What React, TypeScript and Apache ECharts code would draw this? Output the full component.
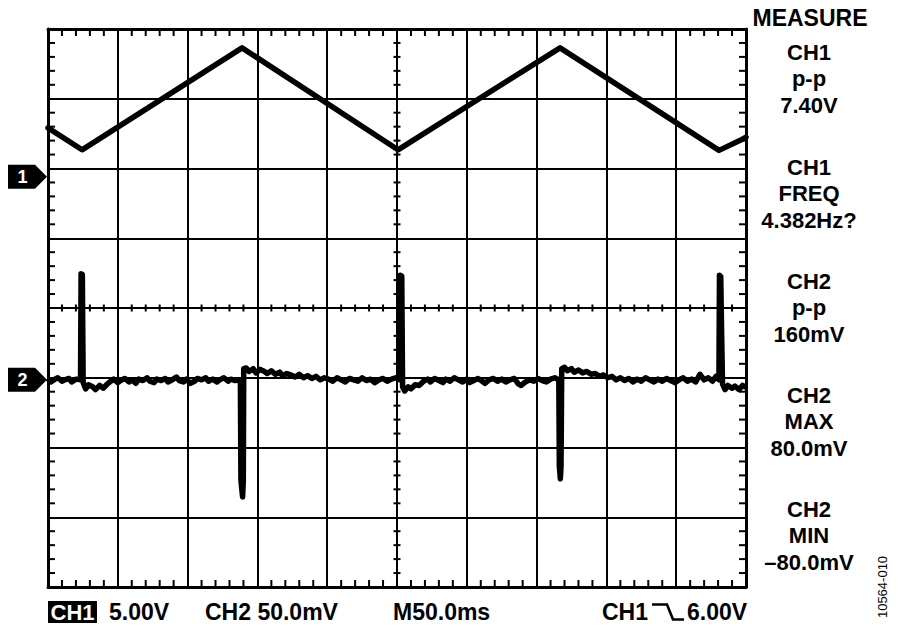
import React, { useEffect, useRef } from "react";
import * as echarts from "echarts";

// ---- scope settings ----
const TIME_MAX_MS = 500; // 10 div x 50 ms
const TIME_DIV_MS = 50;
const CH1_V_PER_DIV = 5;
const CH2_MV_PER_DIV = 50;
const CH1_GROUND_DIV = 1.88; // ground marker 1, divisions above centre
const CH2_GROUND_DIV = -1.03; // ground marker 2, divisions above centre
const MINOR_PER_DIV = 5;

// ---- CH1 triangle (ms, V) ----
const ch1Time = [0, 24.4, 139, 250.7, 366.8, 480.7, 495.5, 500];
const ch1Volts = [3.51, 1.94, 9.25, 1.94, 9.25, 1.9, 2.6, 2.85];

// ---- CH2 spikes (ms, mV) ----
const ch2Samples: [number, number][] = [
  [0, 1], [2, -1.5], [5, 0.5], [7, 1.5], [10, -1], [12, 0], [15, 1], [17, -1.5], [20, 0.5], [23.3, 0],
  [23.7, 76], [24.6, 75.5], [25.2, -2],
  [27, -6.5], [29, -3.5], [32, -5], [34, -7], [37, -4], [39.5, -6], [42, -3.5],
  [45, -1], [47, 0.5], [50, -2], [52, -0.5], [55, 1], [58, -1.5], [60, 0], [63, -2.5], [65, 0.5],
  [68, -0.5], [71, 1.5], [73, -1], [76, -2], [78, 0.5], [81, -0.5], [84, 1], [86, -1.5], [89, 0],
  [92, 2], [94, -0.5], [97, -1.5], [99, 0.5], [102, -2.5], [105, -1], [107, 1], [110, 0], [113, 1.5],
  [115, -1], [118, 0.5], [121, -1.5], [123, 0], [126, 1.5], [129, -1], [131, 0.5], [134, -0.5], [137.8, 0],
  [138.2, -72], [139.4, -84], [139.9, -72], [140.2, 8],
  [142, 8.5], [144, 6], [147, 8], [149, 5], [152, 7.5], [155, 6], [157, 4.5], [160, 6.5], [163, 4],
  [166, 5.5], [168, 3], [171, 4.5], [174, 3.5], [177, 2], [180, 4], [183, 1.5], [186, 3], [189, 1],
  [192, 2.5], [195, 0], [198, 1.5], [201, 0.5], [204, -1], [207, 1.5], [210, 0], [213, -1.5],
  [216, 1], [219, 0], [222, -1], [225, 1.5], [228, -0.5], [231, 0.5], [234, -2], [237, 0],
  [240, 1], [243, -1], [246, 0.5], [249, 1.5], [251.9, 0],
  [252.3, 75], [253.4, 74.5], [254.0, -5],
  [255.5, -8], [258, -5], [260, -6.5], [263, -3.5], [266, -4],
  [269, -1], [272, 0.5], [274, -1.5], [277, 1], [280, -0.5], [283, -2], [285, 0.5], [288, -1],
  [291, 1.5], [294, 0], [297, -1.5], [300, 0.5], [302, -2], [305, -0.5], [308, 1], [311, -1],
  [313, -2.5], [316, 0], [319, 1], [322, -1], [325, 0.5], [328, -1.5], [331, 0], [334, 1],
  [337, -3], [339, -4], [342, -1.5], [345, 0], [348, -1], [351, 1], [354, -0.5], [357, -1.5],
  [360, 0.5], [363, 1.5], [365.9, 0],
  [366.3, -62], [367.0, -71], [367.5, -62], [368.0, 8],
  [370, 9], [372, 6.5], [375, 8], [377, 5.5], [380, 7], [383, 5], [386, 6], [389, 4], [392, 4.5],
  [395, 2.5], [398, 3.5], [401, 1.5], [404, 2.5], [407, 0], [410, 1.5], [413, -0.5], [416, 1],
  [419, -1.5], [422, 0.5], [425, -1], [428, 1.5], [431, 0], [434, -1.5], [437, 0.5], [440, -1],
  [443, 1], [446, -0.5], [449, -2], [452, 0], [455, 1.5], [458, -1], [461, 0.5], [464, -1.5],
  [467, 4], [470, 0], [473, 1.5], [476, -1], [478.5, 2.5], [480.6, 0],
  [481.0, 75], [481.9, 74], [482.6, 30], [483.2, -3],
  [485, -7], [487, -4], [490, -6], [492, -4.5], [495, -7], [497.5, -4], [500, -5.5],
];

// ---- texts ----
const measureTitle = "MEASURE";
const measureGroups = [
  ["CH1", "p-p", "7.40V"],
  ["CH1", "FREQ", "4.382Hz?"],
  ["CH2", "p-p", "160mV"],
  ["CH2", "MAX", "80.0mV"],
  ["CH2", "MIN", "\u201380.0mV"],
];
const bottomCh1Box = "CH1";
const bottomLabels = ["5.00V", "CH2 50.0mV", "M50.0ms", "CH1", "6.00V"];
const figureId = "10564-010";

// ---- layout ----
const GRID = { left: 48, top: 29, width: 698, height: 558 };
const FONT = '"Liberation Sans", Arial, Helvetica, sans-serif';
const BLACK = "#000";

const borderLine = { show: true, onZero: false, lineStyle: { color: BLACK, width: 3 } };
const gridLine = { show: true, lineStyle: { color: BLACK, width: 2 } };

function buildOption() {
  return {
    animation: false,
    backgroundColor: "#fff",
    grid: { ...GRID, containLabel: false, outerBoundsMode: "none" },
    xAxis: [
      {
        type: "value",
        position: "bottom",
        min: 0,
        max: TIME_MAX_MS,
        interval: TIME_DIV_MS,
        axisLabel: { show: false },
        axisTick: { show: false },
        axisLine: borderLine,
        splitLine: gridLine,
      },
      {
        type: "value",
        position: "top",
        min: 0,
        max: TIME_MAX_MS,
        interval: TIME_DIV_MS,
        axisLabel: { show: false },
        axisTick: { show: false },
        axisLine: borderLine,
        splitLine: { show: false },
      },
    ],
    yAxis: [
      {
        type: "value",
        position: "left",
        min: -4,
        max: 4,
        interval: 1,
        axisLabel: { show: false },
        axisTick: { show: false },
        axisLine: borderLine,
        splitLine: gridLine,
      },
      {
        type: "value",
        position: "right",
        min: -4,
        max: 4,
        interval: 1,
        axisLabel: { show: false },
        axisTick: { show: false },
        axisLine: borderLine,
        splitLine: { show: false },
      },
      {
        type: "value",
        show: false,
        min: (-4 - CH1_GROUND_DIV) * CH1_V_PER_DIV,
        max: (4 - CH1_GROUND_DIV) * CH1_V_PER_DIV,
        axisLine: { onZero: false },
        splitLine: { show: false },
      },
      {
        type: "value",
        show: false,
        min: (-4 - CH2_GROUND_DIV) * CH2_MV_PER_DIV,
        max: (4 - CH2_GROUND_DIV) * CH2_MV_PER_DIV,
        axisLine: { onZero: false },
        splitLine: { show: false },
      },
    ],
    series: [
      {
        name: "CH1",
        type: "line",
        xAxisIndex: 0,
        yAxisIndex: 2,
        data: ch1Time.map((t, i) => [t, ch1Volts[i]]),
        symbol: "none",
        showSymbol: false,
        silent: true,
        clip: true,
        z: 5,
        lineStyle: { color: BLACK, width: 5.5, join: "round", cap: "round" },
      },
      {
        name: "CH2",
        type: "line",
        xAxisIndex: 0,
        yAxisIndex: 3,
        data: ch2Samples,
        symbol: "none",
        showSymbol: false,
        silent: true,
        clip: true,
        z: 5,
        lineStyle: { color: BLACK, width: 5.5, join: "round", cap: "butt" },
      },
    ],
  };
}

function text(str: string, x: number, y: number, size: number, align: string, opts: any = {}) {
  return {
    type: "text",
    x,
    y,
    z: 100,
    silent: true,
    ...opts.el,
    style: {
      text: str,
      fill: opts.fill || BLACK,
      fontSize: size,
      fontWeight: opts.weight || "bold",
      fontFamily: FONT,
      align,
      textAlign: align,
      verticalAlign: "middle",
      textVerticalAlign: "middle",
    },
  };
}

function tickLine(x1: number, y1: number, x2: number, y2: number) {
  return {
    type: "line",
    z: 50,
    silent: true,
    shape: { x1, y1, x2, y2 },
    style: { stroke: BLACK, lineWidth: 2 },
  };
}

// minor ticks of the graticule, positioned through the chart's own axes
function buildTicks(chart: any) {
  const g: any[] = [];
  const px = (t: number) => chart.convertToPixel({ xAxisIndex: 0 }, t) as number;
  const py = (v: number) => chart.convertToPixel({ yAxisIndex: 0 }, v) as number;
  const left = px(0), right = px(TIME_MAX_MS), cx = px(TIME_MAX_MS / 2);
  const top = py(4), bottom = py(-4), cy = py(0);
  const BL = 7; // border tick length
  const CL = 3.5; // centre cross half-length
  for (let d = 0; d < 10; d++) {
    for (let k = 1; k < MINOR_PER_DIV; k++) {
      const x = px((d + k / MINOR_PER_DIV) * TIME_DIV_MS);
      g.push(tickLine(x, top, x, top + BL));
      g.push(tickLine(x, bottom, x, bottom - BL));
      g.push(tickLine(x, cy - CL, x, cy + CL));
    }
  }
  for (let d = -4; d < 4; d++) {
    for (let k = 1; k < MINOR_PER_DIV; k++) {
      const y = py(d + k / MINOR_PER_DIV);
      g.push(tickLine(left, y, left + BL, y));
      g.push(tickLine(right, y, right - BL, y));
      g.push(tickLine(cx - CL, y, cx + CL, y));
    }
  }
  return g;
}

function marker(label: string, py: number) {
  return [
    {
      type: "polygon",
      z: 100,
      silent: true,
      shape: {
        points: [
          [8, py - 12],
          [35, py - 12],
          [47, py],
          [35, py + 12],
          [8, py + 12],
        ],
      },
      style: { fill: BLACK },
    },
    text(label, 22.5, py + 0.5, 18, "center", { fill: "#fff" }),
  ];
}

function buildLabels(y1: number, y2: number) {
  const g: any[] = [];
  g.push(...marker("1", y1));
  g.push(...marker("2", y2));

  // right-hand measurement panel
  const cx = 809;
  g.push(text(measureTitle, cx + 1, 18, 23, "center"));
  const groupY = [52, 167, 281, 395, 509];
  measureGroups.forEach((lines, gi) => {
    lines.forEach((ln, li) => {
      g.push(text(ln, cx, groupY[gi] + li * 26.7, 22, "center"));
    });
  });

  // bottom status line
  const by = 612;
  g.push({
    type: "rect",
    z: 100,
    silent: true,
    shape: { x: 48, y: 601, width: 49, height: 22 },
    style: { fill: BLACK },
  });
  g.push(text(bottomCh1Box, 72.5, by + 0.5, 22, "center", { fill: "#fff" }));
  const bx = [109, 205, 393, 602, 687];
  bottomLabels.forEach((s, i) => g.push(text(s, bx[i], by, 23, "left")));
  // falling-edge trigger symbol
  g.push({
    type: "polyline",
    z: 100,
    silent: true,
    shape: { points: [[652, 604.5], [667, 604.5], [673, 619.5], [684, 619.5]] },
    style: { stroke: BLACK, lineWidth: 2.6, fill: "none" },
  });

  // figure id (rotated)
  g.push(text(figureId, 882, 587, 13, "center", { weight: "normal", el: { rotation: Math.PI / 2 } }));
  return g;
}

export default function App() {
  const ref = useRef<HTMLDivElement>(null);
  useEffect(() => {
    if (!ref.current) return;
    const chart = echarts.init(ref.current, null, { renderer: "svg" });
    chart.setOption(buildOption() as any);
    const divPx = GRID.height / 8;
    const centreY = GRID.top + GRID.height / 2;
    let y1 = chart.convertToPixel({ yAxisIndex: 2 } as any, 0) as any;
    let y2 = chart.convertToPixel({ yAxisIndex: 3 } as any, 0) as any;
    if (typeof y1 !== "number" || !isFinite(y1)) y1 = centreY - CH1_GROUND_DIV * divPx;
    if (typeof y2 !== "number" || !isFinite(y2)) y2 = centreY - CH2_GROUND_DIV * divPx;
    chart.setOption({ graphic: [...buildTicks(chart), ...buildLabels(y1, y2)] } as any);
    return () => chart.dispose();
  }, []);
  return (
    <div
      ref={ref}
      style={{ position: "absolute", left: 0, top: 0, width: 900, height: 635, background: "#fff" }}
    />
  );
}
